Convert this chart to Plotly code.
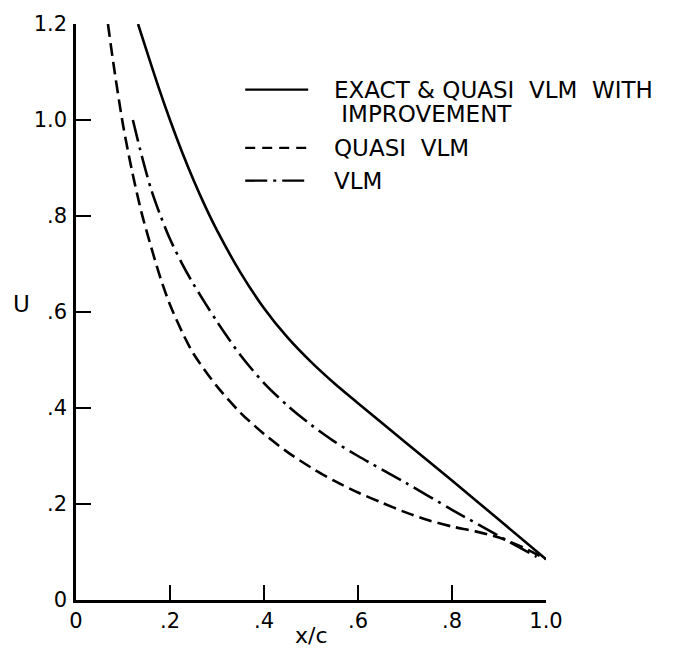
import plotly.graph_objects as go

# ---- data ----
exact_x = [0.132, 0.15, 0.175, 0.2, 0.225, 0.25, 0.275, 0.3, 0.35, 0.4, 0.45, 0.5, 0.55, 0.6, 0.7, 0.8, 0.9, 1.0]
exact_y = [1.2, 1.145, 1.07, 1.0, 0.935, 0.875, 0.82, 0.77, 0.682, 0.608, 0.547, 0.496, 0.451, 0.41, 0.329, 0.249, 0.167, 0.085]

quasi_x = [0.068, 0.08, 0.1, 0.12, 0.14, 0.16, 0.18, 0.2, 0.225, 0.25, 0.3, 0.35, 0.4, 0.45, 0.5, 0.55, 0.6, 0.65, 0.7, 0.75, 0.8, 0.85, 0.9, 0.95, 1.0]
quasi_y = [1.2, 1.115, 0.99, 0.89, 0.805, 0.735, 0.67, 0.615, 0.56, 0.513, 0.445, 0.39, 0.346, 0.308, 0.276, 0.248, 0.224, 0.203, 0.183, 0.166, 0.153, 0.143, 0.13, 0.11, 0.085]

vlm_x = [0.121, 0.14, 0.16, 0.18, 0.2, 0.225, 0.25, 0.3, 0.35, 0.4, 0.45, 0.5, 0.55, 0.6, 0.7, 0.8, 0.9, 0.98]
vlm_y = [1.0, 0.925, 0.855, 0.80, 0.752, 0.702, 0.658, 0.58, 0.51, 0.452, 0.405, 0.365, 0.33, 0.30, 0.245, 0.188, 0.133, 0.09]

x_ticks = [0, 0.2, 0.4, 0.6, 0.8, 1.0]
x_labels = ["0", ".2", ".4", ".6", ".8", "1.0"]
y_ticks = [0, 0.2, 0.4, 0.6, 0.8, 1.0, 1.2]
y_labels = ["0", ".2", ".4", ".6", ".8", "1.0", "1.2"]

legend_names = ["EXACT & QUASI  VLM  WITH", "QUASI  VLM", "VLM"]
legend_extra = " IMPROVEMENT"

FONT = "DejaVu Sans, sans-serif"
SOLID = "solid"
DASH = "13px,6px"
DASHDOT = "22px,6px,3px,6px"

fig = go.Figure()
fig.add_trace(go.Scatter(x=exact_x, y=exact_y, mode="lines", line=dict(color="black", width=2.6, dash=SOLID, shape="spline", smoothing=0.8), showlegend=False))
fig.add_trace(go.Scatter(x=quasi_x, y=quasi_y, mode="lines", line=dict(color="black", width=2.6, dash=DASH, shape="spline", smoothing=0.8), showlegend=False))
fig.add_trace(go.Scatter(x=vlm_x, y=vlm_y, mode="lines", line=dict(color="black", width=2.6, dash=DASHDOT, shape="spline", smoothing=0.8), showlegend=False))

# hand-drawn style legend
leg_y = [0.886, 0.785, 0.728]
leg_dash = [SOLID, "10px,7px", DASHDOT]
for yy, d, name in zip(leg_y, leg_dash, legend_names):
    fig.add_shape(type="line", xref="paper", yref="paper", x0=0.36, x1=0.494, y0=yy, y1=yy,
                  line=dict(color="black", width=2.4, dash=d))
    fig.add_annotation(xref="paper", yref="paper", x=0.545, y=yy, text=name, showarrow=False,
                       xanchor="left", yanchor="middle",
                       font=dict(family=FONT, size=23, color="black"))
fig.add_annotation(xref="paper", yref="paper", x=0.545, y=0.843, text=legend_extra, showarrow=False,
                   xanchor="left", yanchor="middle", font=dict(family=FONT, size=23, color="black"))

fig.add_annotation(xref="paper", yref="paper", x=-0.117, y=0.514, text="U", showarrow=False,
                   xanchor="center", yanchor="middle",
                   font=dict(family=FONT, size=23, color="black"))
fig.add_annotation(xref="paper", yref="paper", x=0.5, y=-0.062, text="x/c", showarrow=False,
                   xanchor="center", yanchor="middle",
                   font=dict(family=FONT, size=22, color="black"))

axis_common = dict(showgrid=False, zeroline=False, showline=True, linecolor="black", linewidth=2.5,
                   ticks="inside", ticklen=15, tickwidth=2, tickcolor="black",
                   tickfont=dict(family=FONT, size=21, color="black"))
fig.update_xaxes(range=[0, 1.0], tickvals=x_ticks, ticktext=x_labels, **axis_common)
fig.update_yaxes(range=[0, 1.2], tickvals=y_ticks, ticktext=y_labels, ticklabelstandoff=2, **axis_common)

fig.update_layout(width=677, height=652, margin=dict(l=76, r=131, t=22, b=52),
                  paper_bgcolor="white", plot_bgcolor="white", showlegend=False)
fig.write_html("out.html")
